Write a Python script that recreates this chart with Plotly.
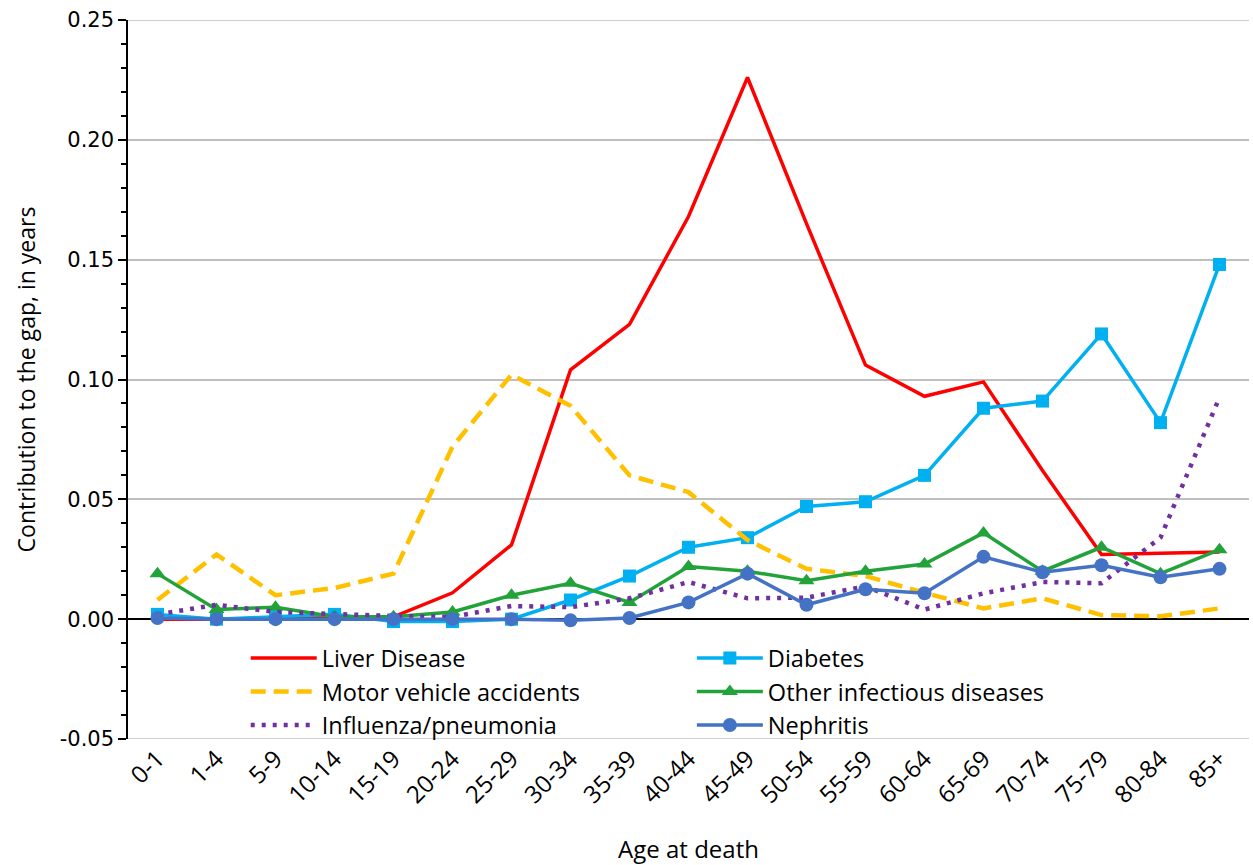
import plotly.graph_objects as go

ages = ["0-1", "1-4", "5-9", "10-14", "15-19", "20-24", "25-29", "30-34", "35-39",
        "40-44", "45-49", "50-54", "55-59", "60-64", "65-69", "70-74", "75-79",
        "80-84", "85+"]

liver = [0.000, 0.000, 0.000, 0.001, 0.001, 0.011, 0.031, 0.104, 0.123, 0.168,
         0.226, 0.165, 0.106, 0.093, 0.099, 0.062, 0.027, 0.0275, 0.028]
diabetes = [0.002, 0.000, 0.001, 0.002, -0.001, -0.001, 0.000, 0.008, 0.018, 0.030,
            0.034, 0.047, 0.049, 0.060, 0.088, 0.091, 0.119, 0.082, 0.148]
motor = [0.008, 0.027, 0.010, 0.013, 0.019, 0.072, 0.102, 0.089, 0.060, 0.053,
         0.033, 0.021, 0.018, 0.011, 0.0045, 0.0087, 0.0017, 0.0012, 0.0045]
infectious = [0.019, 0.004, 0.005, 0.001, 0.001, 0.003, 0.010, 0.015, 0.007, 0.022,
              0.020, 0.016, 0.020, 0.023, 0.036, 0.020, 0.030, 0.019, 0.029]
influenza = [0.002, 0.006, 0.003, 0.002, 0.0013, 0.001, 0.0055, 0.005, 0.0087, 0.0155,
             0.0087, 0.009, 0.0137, 0.004, 0.0108, 0.0155, 0.015, 0.034, 0.0925]
nephritis = [0.0005, 0.000, 0.000, 0.000, 0.000, 0.000, 0.000, -0.0005, 0.0005, 0.007,
             0.019, 0.006, 0.0125, 0.0108, 0.026, 0.0196, 0.0225, 0.0175, 0.021]

y_tick_values = [-0.05, 0.00, 0.05, 0.10, 0.15, 0.20, 0.25]
y_tick_labels = ["-0.05", "0.00", "0.05", "0.10", "0.15", "0.20", "0.25"]
Y_RANGE = [-0.05, 0.25]

TEXT_FONT = "'Open Sans', Lato, sans-serif"
TICK_FONT = "'DejaVu Sans', Verdana, sans-serif"
GRID = "#BFBFBF"

fig = go.Figure()

# Left legend column: Liver, Motor vehicle, Influenza
# Right legend column: Diabetes, Other infectious, Nephritis
fig.add_trace(go.Scatter(x=ages, y=liver, name="Liver Disease", mode="lines",
                         line=dict(color="#FF0000", width=3.5), legend="legend"))
fig.add_trace(go.Scatter(x=ages, y=diabetes, name="Diabetes", mode="lines+markers",
                         line=dict(color="#00B0F0", width=3.5),
                         marker=dict(symbol="square", size=13, color="#00B0F0"),
                         legend="legend2"))
fig.add_trace(go.Scatter(x=ages, y=motor, name="Motor vehicle accidents", mode="lines",
                         line=dict(color="#FFC000", width=4.5, dash="15px,8px"),
                         legend="legend"))
fig.add_trace(go.Scatter(x=ages, y=infectious, name="Other infectious diseases",
                         mode="lines+markers",
                         line=dict(color="#21A33A", width=3.5),
                         marker=dict(symbol="triangle-up", size=14, color="#21A33A"),
                         legend="legend2"))
fig.add_trace(go.Scatter(x=ages, y=influenza, name="Influenza/pneumonia", mode="lines",
                         line=dict(color="#7030A0", width=4.5, dash="4px,7px"),
                         legend="legend"))
fig.add_trace(go.Scatter(x=ages, y=nephritis, name="Nephritis", mode="lines+markers",
                         line=dict(color="#4472C4", width=3.5),
                         marker=dict(symbol="circle", size=14, color="#4472C4"),
                         legend="legend2"))

legend_style = dict(
    orientation="v",
    yanchor="top", xanchor="left",
    font=dict(family=TEXT_FONT, size=23.5, color="#000000"),
    bgcolor="rgba(0,0,0,0)",
    tracegroupgap=0,
    itemwidth=66,
)

# Gridlines along the top and bottom edges of the plotting area
edge_lines = [
    dict(type="line", xref="paper", yref="y", x0=0, x1=1, y0=v, y1=v,
         line=dict(color=GRID, width=1.5), layer="below")
    for v in Y_RANGE
]

fig.update_layout(
    width=1253, height=865,
    margin=dict(l=128, r=4, t=20, b=126),
    paper_bgcolor="white", plot_bgcolor="white",
    font=dict(family=TEXT_FONT, color="#000000", size=24),
    showlegend=True,
    legend=dict(x=0.105, y=0.143, **legend_style),
    legend2=dict(x=0.503, y=0.143, **legend_style),
    shapes=edge_lines,
)

fig.update_xaxes(
    type="category",
    range=[-0.5, 18.5],
    tickangle=-45,
    tickfont=dict(family=TEXT_FONT, size=24, color="#000000"),
    showgrid=False,
    showline=False,
    ticks="",
    title=dict(text="Age at death", font=dict(family=TEXT_FONT, size=24), standoff=34),
)

fig.update_yaxes(
    range=Y_RANGE,
    tickvals=y_tick_values,
    ticktext=y_tick_labels,
    tickfont=dict(family=TICK_FONT, size=21, color="#000000"),
    showgrid=True, gridcolor=GRID, gridwidth=1.5,
    zeroline=True, zerolinecolor="#000000", zerolinewidth=1.5,
    showline=True, linecolor="#000000", linewidth=1.5,
    ticks="outside", ticklen=8, tickcolor="#000000", tickwidth=1.5,
    minor=dict(dtick=0.01, tick0=0, ticks="outside", ticklen=5, tickcolor="#000000",
               tickwidth=1.5, showgrid=False),
    title=dict(text="Contribution to the gap, in years",
               font=dict(family=TEXT_FONT, size=23), standoff=18),
)

fig.write_html("out.html")
